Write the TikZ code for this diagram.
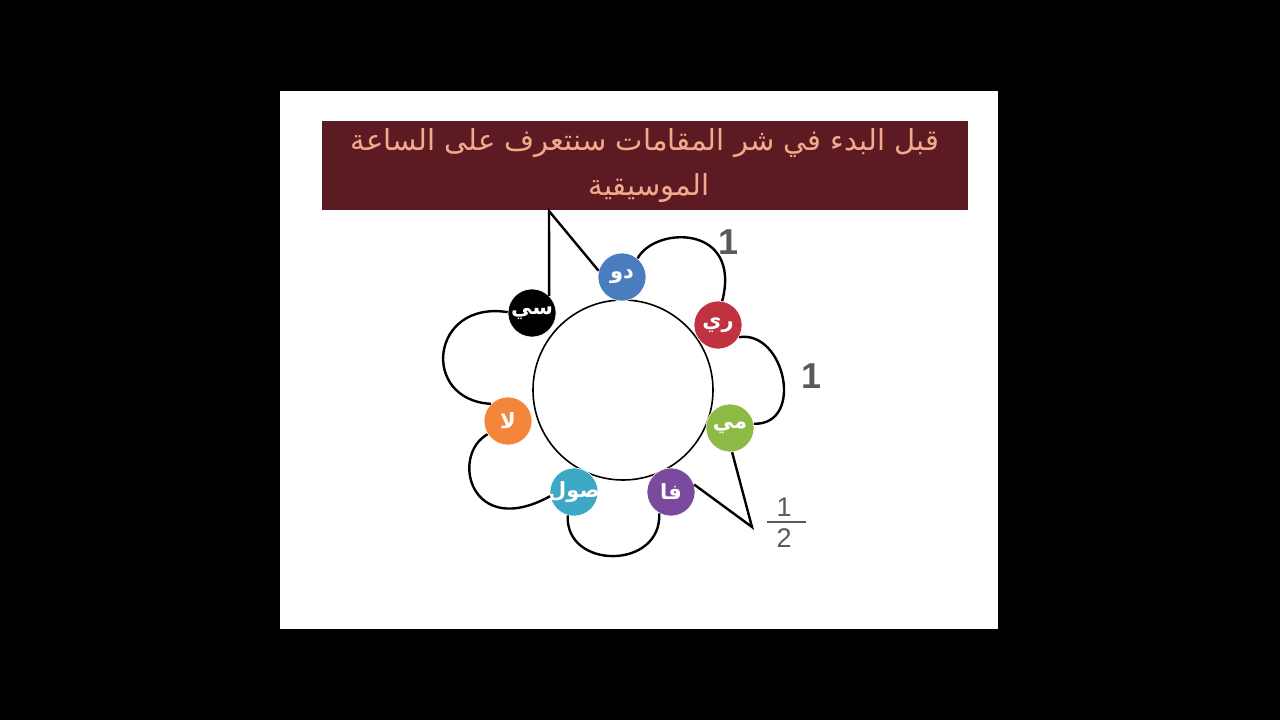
\documentclass[tikz,border=0pt]{standalone}
\usepackage{fontspec}
\TeXXeTstate=1
\setmainfont{Liberation Sans}
\newfontfamily\arabicfont[Script=Arabic]{DejaVu Sans}
\definecolor{titlebg}{HTML}{5C1B22}
\definecolor{titletext}{HTML}{F2AA8C}
\definecolor{cdo}{HTML}{4A7DC0}
\definecolor{cre}{HTML}{C0323F}
\definecolor{cmi}{HTML}{8DBA45}
\definecolor{cfa}{HTML}{7A4A9F}
\definecolor{csol}{HTML}{3DA8C4}
\definecolor{cla}{HTML}{F3863A}
\definecolor{csi}{HTML}{000000}
\definecolor{numgray}{HTML}{5A5A5A}
\newcommand{\notelabel}[1]{\makebox[0pt]{\beginR #1\endR}}
\begin{document}
\begin{tikzpicture}[x=1pt,y=-1pt,
  note/.style={circle, minimum size=48pt, inner sep=0pt, draw=white, line width=0.6pt, text=white, font=\arabicfont\bfseries\fontsize{21}{24}\selectfont},
  link/.style={line width=2.4pt, black},
  num/.style={text=numgray, font=\bfseries\fontsize{36}{40}\selectfont},
  fracnum/.style={text=numgray, font=\fontsize{27}{30}\selectfont},
  titletxt/.style={text=titletext, font=\arabicfont\fontsize{29}{34}\selectfont}]
\fill[black] (0,0) rectangle (1280,720);
\fill[white] (280,91) rectangle (998,629);
\node[fill=titlebg, minimum width=646pt, minimum height=89pt, inner sep=0pt] (title) at (645,165.5) {};
\node[titletxt] (t1) at (645,143) {\beginR قبل البدء في شر المقامات سنتعرف على الساعة\endR};
\node[titletxt] (t2) at (649,188) {\beginR الموسيقية\endR};
\node[circle, draw=black, line width=1.6pt, minimum size=180pt, inner sep=0pt] (clock) at (623,390) {};
\node[note, fill=cdo] (do) at (622,277) {\notelabel{دو}};
\node[note, fill=cre] (re) at (718,325) {\notelabel{ري}};
\node[note, fill=cmi] (mi) at (730,428) {\notelabel{مي}};
\node[note, fill=cfa] (fa) at (671,492) {\notelabel{فا}};
\node[note, fill=csol] (sol) at (574,492) {\notelabel{صول}};
\node[note, fill=cla] (la) at (508,421) {\notelabel{لا}};
\node[note, fill=csi] (si) at (532,313) {\notelabel{سي}};
\coordinate (top) at (549,211);
\coordinate (tip) at (752,527);
\draw[link] (do.50) .. controls (655,226) and (742,224) .. (re.80);
\draw[link] (re.-30) .. controls (785,330) and (805,425) .. (mi.10);
\draw[link] (mi.-85) -- (tip) -- (fa.18);
\draw[link] (fa.-119) .. controls (662,570) and (565,570) .. (sol.-105);
\draw[link] (sol.190) .. controls (470,540) and (450,455) .. (la.213);
\draw[link] (la.135) .. controls (420,400) and (430,300) .. (si.178);
\draw[link] (si.45) -- (top) -- (do.165);
\node[num] (n1) at (729,242) {1};
\node[num] (n2) at (812,376) {1};
\node[fracnum] (h1) at (784,507) {1};
\draw[numgray, line width=1.5pt] (767,522) -- (806,522);
\node[fracnum] (h2) at (784,538) {2};
\end{tikzpicture}
\end{document}
